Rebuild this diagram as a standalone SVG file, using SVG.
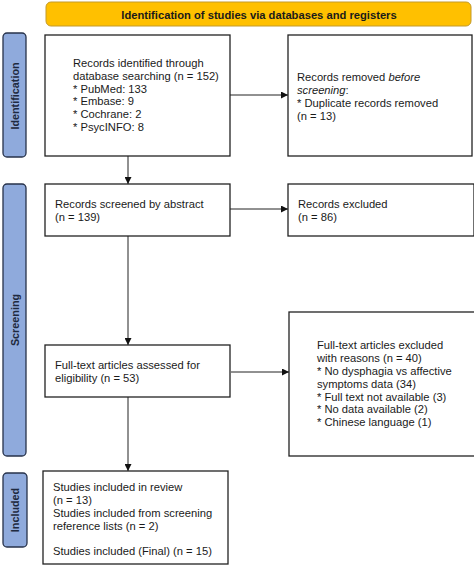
<svg xmlns="http://www.w3.org/2000/svg" width="474" height="566" viewBox="0 0 474 566">
<style>
.box{fill:#fff;stroke:#222;stroke-width:1.3}
.side{fill:#8faadc;stroke:#27324a;stroke-width:1.3}
.t{font-family:"Liberation Sans",Arial,sans-serif;font-size:11.2px;fill:#1a1a1a}
.st{font-family:"Liberation Sans",Arial,sans-serif;font-size:10.8px;font-weight:bold;fill:#1f2a40}
.c{stroke:#222;stroke-width:1;fill:none}
</style>
<defs>
<marker id="ah" viewBox="0 0 10 10" refX="10" refY="5" markerWidth="7" markerHeight="7" orient="auto" markerUnits="userSpaceOnUse">
<path d="M0,0 L10,5 L0,10 z" fill="#111"/>
</marker>
</defs>
<rect width="474" height="566" fill="#fff"/>
<g id="header">
<rect x="46" y="2" width="425" height="24" rx="5" fill="#ffc000" stroke="#c39a2a" stroke-width="1"/>
<text x="259" y="18.5" text-anchor="middle" class="st" style="fill:#1a1a1a;font-size:11.2px">Identification of studies via databases and registers</text>
</g>
<g id="side-identification">
<rect x="3" y="33" width="23" height="124" rx="4" class="side"/>
<text transform="translate(18.8,96) rotate(-90)" text-anchor="middle" class="st">Identification</text>
</g>
<g id="side-screening">
<rect x="3" y="184" width="23" height="272" rx="4" class="side"/>
<text transform="translate(18.8,320) rotate(-90)" text-anchor="middle" class="st">Screening</text>
</g>
<g id="side-included">
<rect x="3" y="473" width="24" height="74" rx="4" class="side"/>
<text transform="translate(19.3,510) rotate(-90)" text-anchor="middle" class="st">Included</text>
</g>
<g id="connectors">
<line x1="230" y1="95" x2="288" y2="95" class="c" marker-end="url(#ah)"/>
<line x1="128" y1="156" x2="128" y2="184" class="c" marker-end="url(#ah)"/>
<line x1="230" y1="209" x2="288" y2="209" class="c" marker-end="url(#ah)"/>
<line x1="128" y1="236" x2="128" y2="345" class="c" marker-end="url(#ah)"/>
<line x1="231" y1="372" x2="289" y2="372" class="c" marker-end="url(#ah)"/>
<line x1="128" y1="397" x2="128" y2="471" class="c" marker-end="url(#ah)"/>
</g>
<g id="box-identified">
<rect x="45" y="35" width="185" height="121" class="box"/>
<text class="t"><tspan x="73" y="67">Records identified through</tspan><tspan x="73" y="80">database searching (n = 152)</tspan><tspan x="73" y="92.5">* PubMed: 133</tspan><tspan x="73" y="105">* Embase: 9</tspan><tspan x="73" y="118">* Cochrane: 2</tspan><tspan x="73" y="130.5">* PsycINFO: 8</tspan></text>
</g>
<g id="box-removed">
<rect x="288" y="35" width="184" height="121" class="box"/>
<text class="t"><tspan x="297" y="81">Records removed <tspan font-style="italic">before</tspan></tspan><tspan x="297" y="94" font-style="italic">screening</tspan><tspan>:</tspan><tspan x="297" y="107">* Duplicate records removed</tspan><tspan x="297" y="119.5">(n = 13)</tspan></text>
</g>
<g id="box-screened">
<rect x="45" y="184" width="185" height="52" class="box"/>
<text class="t"><tspan x="55" y="208">Records screened by abstract</tspan><tspan x="55" y="221">(n = 139)</tspan></text>
</g>
<g id="box-excluded">
<rect x="288" y="184" width="186" height="52" class="box"/>
<text class="t"><tspan x="298" y="208">Records excluded</tspan><tspan x="298" y="221">(n = 86)</tspan></text>
</g>
<g id="box-fulltext">
<rect x="45" y="345" width="185" height="52" class="box"/>
<text class="t"><tspan x="55" y="369">Full-text articles assessed for</tspan><tspan x="55" y="382">eligibility (n = 53)</tspan></text>
</g>
<g id="box-ft-excluded">
<rect x="289" y="312" width="186" height="144" class="box"/>
<text class="t"><tspan x="317" y="349">Full-text articles excluded</tspan><tspan x="317" y="362">with reasons (n = 40)</tspan><tspan x="317" y="375">* No dysphagia vs affective</tspan><tspan x="317" y="387.5">symptoms data (34)</tspan><tspan x="317" y="400.5">* Full text not available (3)</tspan><tspan x="317" y="413">* No data available (2)</tspan><tspan x="317" y="426">* Chinese language (1)</tspan></text>
</g>
<g id="box-included">
<rect x="43" y="471" width="185" height="93" class="box"/>
<text class="t"><tspan x="53" y="491">Studies included in review</tspan><tspan x="53" y="504">(n = 13)</tspan><tspan x="53" y="516.5">Studies included from screening</tspan><tspan x="53" y="529.5">reference lists (n = 2)</tspan><tspan x="53" y="555">Studies included (Final) (n = 15)</tspan></text>
</g>
</svg>
